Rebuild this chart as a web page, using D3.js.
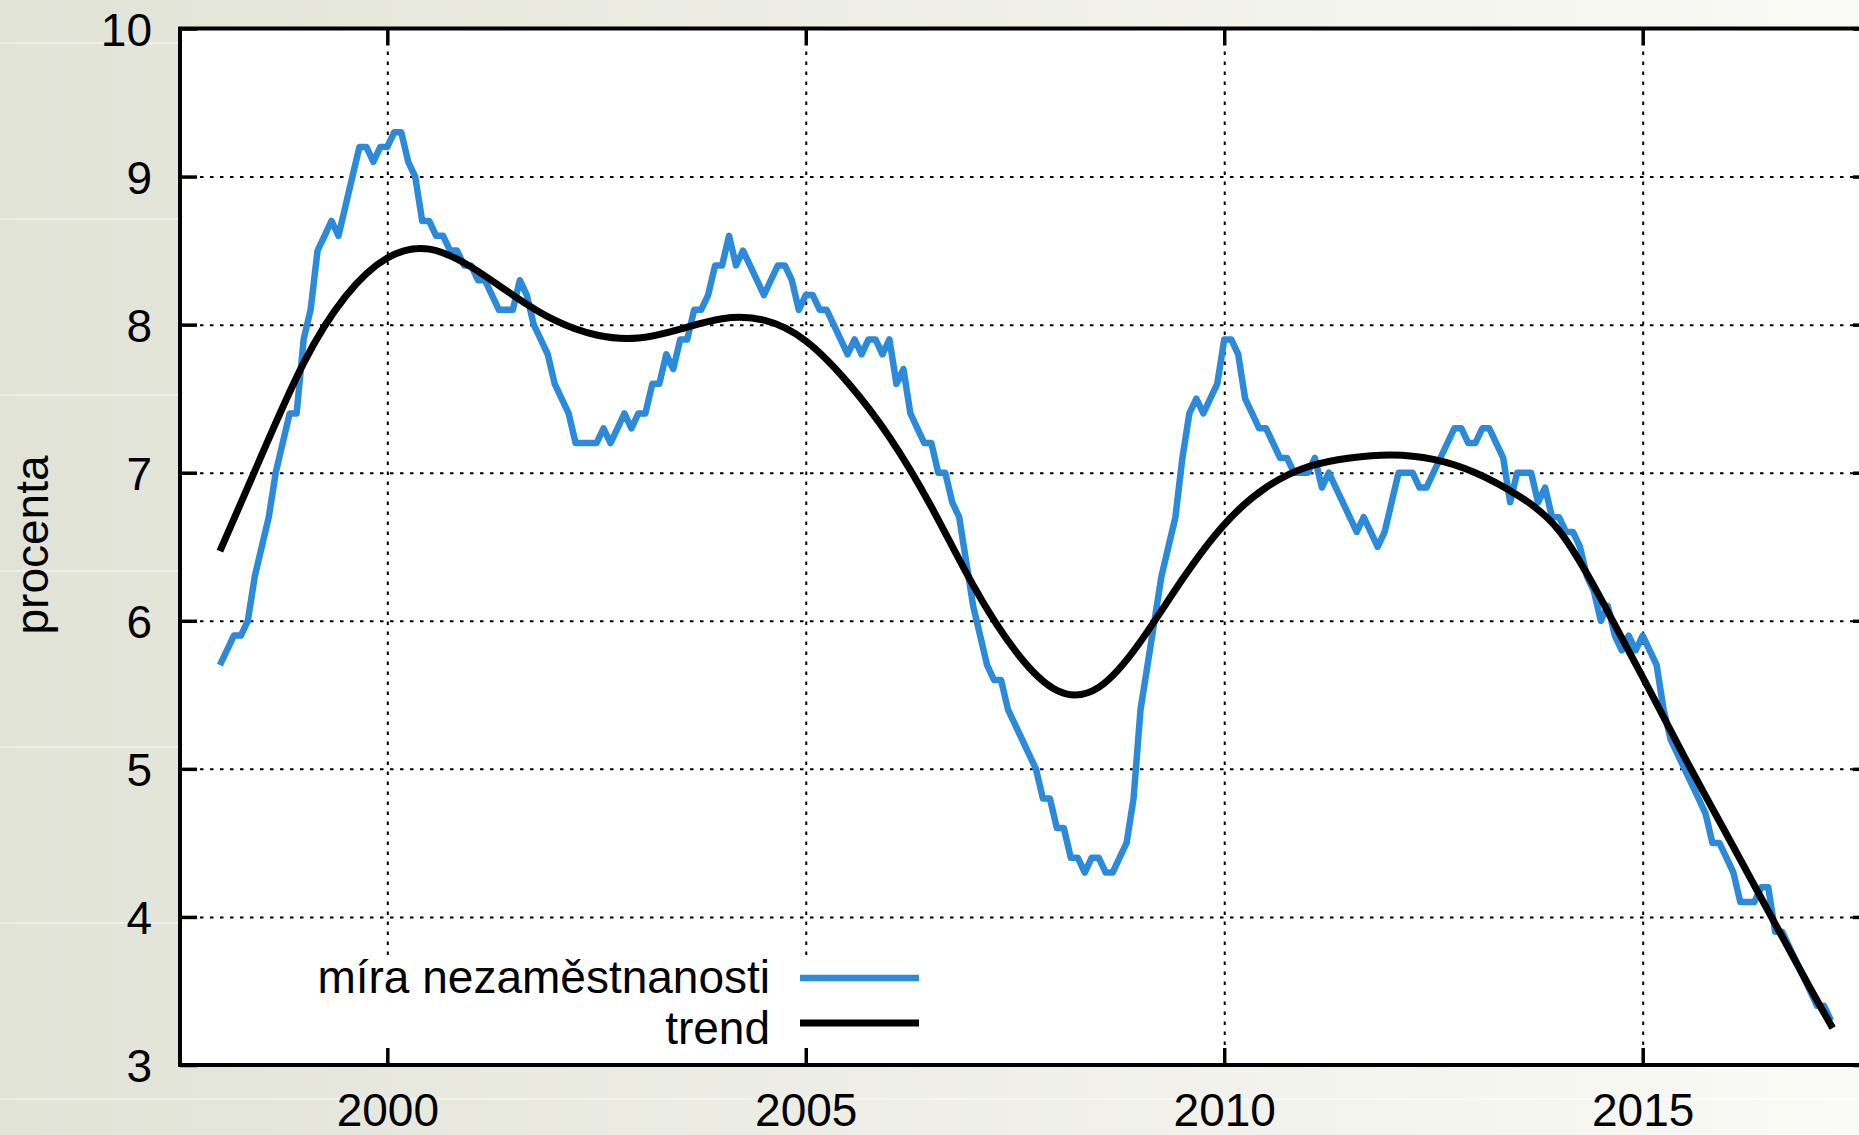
<!DOCTYPE html>
<html><head><meta charset="utf-8">
<script src="https://cdn.jsdelivr.net/npm/d3@7"></script>
<style>html,body{margin:0;padding:0;overflow:hidden;background:#fff}</style>
</head><body><svg id="chart" width="1859" height="1135"></svg>
<script>
// ---- data (monthly, Jan 1998 .. Apr 2017) ----
const startYear = 1998;
const unemployment = [
  5.7,5.8,5.9,5.9,6.0,6.3,6.5,6.7,7.0,7.2,7.4,7.4,   // 1998
  7.9,8.1,8.5,8.6,8.7,8.6,8.8,9.0,9.2,9.2,9.1,9.2,   // 1999
  9.2,9.3,9.3,9.1,9.0,8.7,8.7,8.6,8.6,8.5,8.5,8.4,   // 2000
  8.4,8.3,8.3,8.2,8.1,8.1,8.1,8.3,8.2,8.0,7.9,7.8,   // 2001
  7.6,7.5,7.4,7.2,7.2,7.2,7.2,7.3,7.2,7.3,7.4,7.3,   // 2002
  7.4,7.4,7.6,7.6,7.8,7.7,7.9,7.9,8.1,8.1,8.2,8.4,   // 2003
  8.4,8.6,8.4,8.5,8.4,8.3,8.2,8.3,8.4,8.4,8.3,8.1,   // 2004
  8.2,8.2,8.1,8.1,8.0,7.9,7.8,7.9,7.8,7.9,7.9,7.8,   // 2005
  7.9,7.6,7.7,7.4,7.3,7.2,7.2,7.0,7.0,6.8,6.7,6.4,   // 2006
  6.1,5.9,5.7,5.6,5.6,5.4,5.3,5.2,5.1,5.0,4.8,4.8,   // 2007
  4.6,4.6,4.4,4.4,4.3,4.4,4.4,4.3,4.3,4.4,4.5,4.8,   // 2008
  5.4,5.7,6.0,6.3,6.5,6.7,7.1,7.4,7.5,7.4,7.5,7.6,   // 2009
  7.9,7.9,7.8,7.5,7.4,7.3,7.3,7.2,7.1,7.1,7.0,7.0,   // 2010
  7.0,7.1,6.9,7.0,6.9,6.8,6.7,6.6,6.7,6.6,6.5,6.6,   // 2011
  6.8,7.0,7.0,7.0,6.9,6.9,7.0,7.1,7.2,7.3,7.3,7.2,   // 2012
  7.2,7.3,7.3,7.2,7.1,6.8,7.0,7.0,7.0,6.8,6.9,6.7,   // 2013
  6.7,6.6,6.6,6.5,6.3,6.2,6.0,6.1,5.9,5.8,5.9,5.8,   // 2014
  5.9,5.8,5.7,5.4,5.2,5.1,5.0,4.9,4.8,4.7,4.5,4.5,   // 2015
  4.4,4.3,4.1,4.1,4.1,4.2,4.2,3.9,3.9,3.8,3.7,3.6,   // 2016
  3.5,3.4,3.4,3.3                                     // 2017
];
const trendYears  = [1998.0,1998.5,1999.0,1999.5,2000.0,2000.5,2001.0,2001.5,2002.0,2002.5,
                     2003.0,2003.5,2004.0,2004.5,2005.0,2005.5,2006.0,2006.5,2007.0,2007.5,
                     2008.0,2008.5,2009.0,2009.5,2010.0,2010.5,2011.0,2011.5,2012.0,2012.5,
                     2013.0,2013.5,2014.0,2014.5,2015.0,2015.5,2016.0,2016.5,2017.0,2017.27];
const trendValues = [6.47,7.12,7.74,8.19,8.45,8.51,8.39,8.20,8.03,7.93,
                     7.91,7.97,8.04,8.03,7.89,7.61,7.24,6.77,6.24,5.80,
                     5.53,5.55,5.86,6.28,6.65,6.90,7.04,7.10,7.12,7.09,
                     7.00,6.85,6.61,6.15,5.62,5.08,4.56,4.04,3.52,3.25];
const xTicks = [2000, 2005, 2010, 2015];
const yTicks = [3, 4, 5, 6, 7, 8, 9, 10];
const seriesNames = ["míra nezaměstnanosti", "trend"];
const yAxisLabel = "procenta";

// ---- layout ----
const W = 1859, H = 1135;
const P = {left: 180, top: 28.5, right: 1870, bottom: 1065};
const FONT = "'Liberation Sans', Arial, Helvetica, sans-serif";
const FS = 46;
const BLUE = "#2b8ad9";

const x = d3.scaleLinear().domain([1997.523, 2017.716]).range([P.left, P.right]);
const y = d3.scaleLinear().domain([3, 10]).range([P.bottom, P.top]);

const svg = d3.select("#chart");
const defs = svg.append("defs");
const grad = defs.append("linearGradient").attr("id", "bg").attr("x1", 0).attr("x2", 1).attr("y1", 0).attr("y2", 0);
grad.append("stop").attr("offset", "0%").attr("stop-color", "#e2e3d7");
grad.append("stop").attr("offset", "100%").attr("stop-color", "#fafaf6");

svg.append("rect").attr("width", W).attr("height", H).attr("fill", "url(#bg)");
svg.append("g").selectAll("line").data(d3.range(43, H, 176)).join("line")
  .attr("x1", 0).attr("x2", W).attr("y1", d => d).attr("y2", d => d)
  .attr("stroke", "#ffffff").attr("stroke-opacity", 0.6).attr("stroke-width", 1.5);

// plot area
svg.append("rect").attr("x", P.left).attr("y", P.top)
  .attr("width", P.right - P.left).attr("height", P.bottom - P.top).attr("fill", "#fff");

// grid
const gridStyle = g => {
  g.select(".domain").remove();
  g.selectAll(".tick line").attr("stroke", "#000").attr("stroke-width", 2)
    .attr("stroke-dasharray", "3.5,6.5");
};
svg.append("g").attr("transform", `translate(${P.left},0)`)
  .call(d3.axisLeft(y).tickValues(yTicks.filter(v => v > 3 && v < 10)).tickSize(-(P.right - P.left)).tickFormat(""))
  .call(gridStyle);
svg.append("g").attr("transform", `translate(0,${P.bottom})`)
  .call(d3.axisBottom(x).tickValues(xTicks).tickSize(-(P.bottom - P.top)).tickFormat(""))
  .call(gridStyle);

// series
const blueData = unemployment.map((v, i) => [startYear + i / 12, v]);
svg.append("path").datum(blueData)
  .attr("fill", "none").attr("stroke", BLUE).attr("stroke-width", 6.5)
  .attr("stroke-linejoin", "round")
  .attr("d", d3.line().x(d => x(d[0])).y(d => y(d[1])));

const trendData = trendYears.map((t, i) => [t, trendValues[i]]);
svg.append("path").datum(trendData)
  .attr("fill", "none").attr("stroke", "#000").attr("stroke-width", 7)
  .attr("d", d3.line().curve(d3.curveNatural).x(d => x(d[0])).y(d => y(d[1])));

// legend (opaque box)
const lg = svg.append("g");
lg.append("rect").attr("x", 300).attr("y", 955).attr("width", 640).attr("height", 93).attr("fill", "#fff");
const legendItems = [{name: seriesNames[0], color: BLUE, ly: 978, ty: 992.5, w: 6.5},
                     {name: seriesNames[1], color: "#000", ly: 1023, ty: 1044, w: 7}];
legendItems.forEach(it => {
  lg.append("text").attr("x", 770).attr("y", it.ty).attr("text-anchor", "end")
    .attr("font-family", FONT).attr("font-size", FS).attr("fill", "#000").text(it.name);
  lg.append("line").attr("x1", 800).attr("x2", 919).attr("y1", it.ly).attr("y2", it.ly)
    .attr("stroke", it.color).attr("stroke-width", it.w);
});

// ticks (inward) on all four sides
const tickStyle = g => {
  g.select(".domain").remove();
  g.selectAll(".tick line").attr("stroke", "#000").attr("stroke-width", 3.5);
};
const TL = 17;
svg.append("g").attr("transform", `translate(${P.left},0)`)
  .call(d3.axisLeft(y).tickValues(yTicks).tickSize(-TL).tickFormat("")).call(tickStyle);
svg.append("g").attr("transform", `translate(${P.right},0)`)
  .call(d3.axisRight(y).tickValues(yTicks).tickSize(-TL).tickFormat("")).call(tickStyle);
svg.append("g").attr("transform", `translate(0,${P.bottom})`)
  .call(d3.axisBottom(x).tickValues(xTicks).tickSize(-TL).tickFormat("")).call(tickStyle);
svg.append("g").attr("transform", `translate(0,${P.top})`)
  .call(d3.axisTop(x).tickValues(xTicks).tickSize(-TL).tickFormat("")).call(tickStyle);

// border
svg.append("rect").attr("x", P.left).attr("y", P.top)
  .attr("width", P.right - P.left).attr("height", P.bottom - P.top)
  .attr("fill", "none").attr("stroke", "#000").attr("stroke-width", 4);

// tick labels
const labelStyle = g => {
  g.select(".domain").remove();
  g.selectAll(".tick line").remove();
  g.selectAll("text").attr("font-family", FONT).attr("font-size", FS).attr("fill", "#000");
};
svg.append("g").attr("transform", `translate(${P.left},0)`)
  .call(d3.axisLeft(y).tickValues(yTicks).tickSize(0).tickPadding(28).tickFormat(d3.format("d")))
  .call(labelStyle)
  .call(g => g.selectAll("text").attr("dy", "0.36em"));
svg.append("g").attr("transform", `translate(0,${P.bottom})`)
  .call(d3.axisBottom(x).tickValues(xTicks).tickSize(0).tickPadding(0).tickFormat(d3.format("d")))
  .call(labelStyle)
  .call(g => g.selectAll("text").attr("y", 61).attr("dy", null));

// y axis label
svg.append("text").attr("transform", `translate(48,545) rotate(-90)`)
  .attr("text-anchor", "middle").attr("font-family", FONT).attr("font-size", FS)
  .attr("fill", "#000").text(yAxisLabel);
</script></body></html>
